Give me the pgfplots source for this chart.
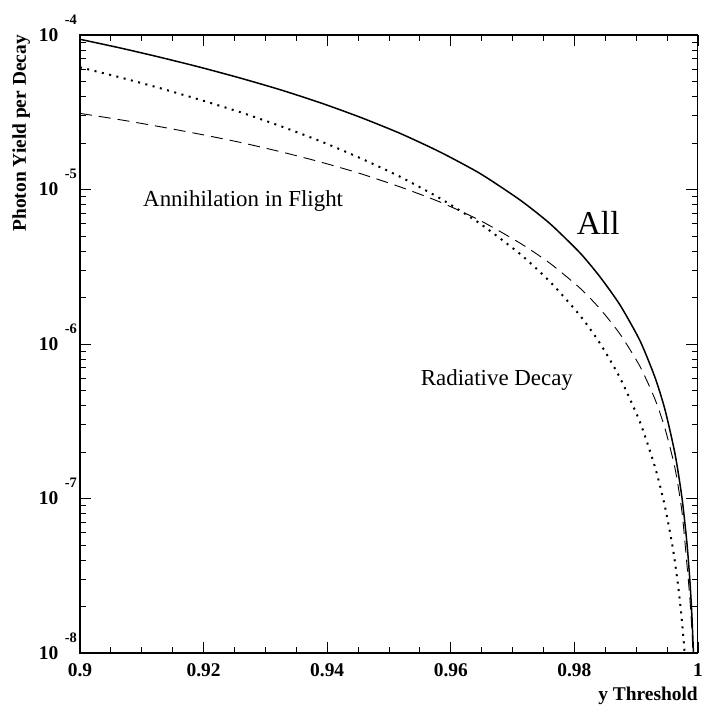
\documentclass[border=0pt]{standalone}
\usepackage{pgfplots}
\pgfplotsset{compat=1.18}
\usepackage{fontspec}
\setmainfont{Liberation Serif}
\newcommand\tenexp[1]{10\hspace{6.5bp}\smash{\raisebox{17bp}{\fontsize{14.5}{14.5}\selectfont #1}}}
\begin{document}
\begin{tikzpicture}
\begin{axis}[name=ax, ymode=log, scale only axis, width=618bp, height=618bp,
  xmin=0.9, xmax=1, ymin=1e-8, ymax=1e-4,
  xtick={0.9,0.92,0.94,0.96,0.98,1},
  xticklabels={0.9,0.92,0.94,0.96,0.98,1},
  minor x tick num=3,
  ytick={1e-8,1e-7,1e-6,1e-5,1e-4},
  yticklabels={\tenexp{-8},\tenexp{-7},\tenexp{-6},\tenexp{-5},\tenexp{-4}},
  axis line style={line width=1bp},
  tick style={line width=0.9bp, black},
  major tick length=11.5bp, minor tick length=6bp,
  xticklabel style={font=\fontsize{19.5}{20}\selectfont\bfseries, inner sep=0pt, yshift=-10bp},
  yticklabel style={font=\fontsize{19.5}{20}\selectfont\bfseries, inner sep=0pt, xshift=-3bp},
]
% All
\addplot[black, line width=1.5bp, smooth, tension=0.4] coordinates {
(0.900000,9.38e-5) (0.906472,8.25e-5) (0.912945,7.18e-5) (0.919417,6.19e-5) (0.925890,5.27e-5)
(0.932362,4.43e-5) (0.938835,3.65e-5) (0.945307,2.94e-5) (0.951780,2.31e-5) (0.958252,1.75e-5)
(0.964725,1.27e-5) (0.971197,8.56e-6) (0.976052,6.01e-6) (0.980906,3.89e-6) (0.984142,2.72e-6)
(0.987379,1.79e-6) (0.990615,1.05e-6) (0.993042,6.08e-7) (0.994660,3.76e-7) (0.996278,1.95e-7)
(0.997411,1.01e-7) (0.998220,5.10e-8) (0.998706,2.86e-8) (0.999029,1.69e-8) (0.999353,8.10e-9)
};
% Radiative decay
\addplot[black, line width=2bp, dash pattern=on 2bp off 5.5bp, smooth, tension=0.4] coordinates {
(0.900000,6.18e-5) (0.906472,5.32e-5) (0.912945,4.53e-5) (0.919417,3.81e-5) (0.925890,3.17e-5)
(0.932362,2.58e-5) (0.938835,2.06e-5) (0.945307,1.60e-5) (0.951780,1.21e-5) (0.958252,8.77e-6)
(0.964725,6.02e-6) (0.971197,3.83e-6) (0.976052,2.53e-6) (0.980906,1.53e-6) (0.984142,1.01e-6)
(0.987379,6.04e-7) (0.990615,3.12e-7) (0.993042,1.60e-7) (0.994660,8.84e-8) (0.995955,4.70e-8)
(0.996764,2.77e-8) (0.997249,1.85e-8) (0.997573,1.35e-8) (0.997896,9.32e-9) (0.998220,5.98e-9)
};
% Annihilation in flight
\addplot[black, line width=0.9bp, dash pattern=on 12bp off 7bp, smooth, tension=0.4] coordinates {
(0.900000,3.11e-5) (0.906472,2.83e-5) (0.912945,2.55e-5) (0.919417,2.28e-5) (0.925890,2.02e-5)
(0.932362,1.76e-5) (0.938835,1.51e-5) (0.945307,1.27e-5) (0.951780,1.04e-5) (0.958252,8.30e-6)
(0.964725,6.31e-6) (0.971197,4.50e-6) (0.976052,3.33e-6) (0.980906,2.30e-6) (0.984142,1.69e-6)
(0.987379,1.16e-6) (0.990615,7.16e-7) (0.993042,4.39e-7) (0.994660,2.84e-7) (0.996278,1.57e-7)
(0.997411,8.18e-8) (0.998220,3.71e-8) (0.998706,2.20e-8) (0.999029,1.37e-8) (0.999353,7.20e-9)
};
\node[anchor=base west, inner sep=0pt, font=\fontsize{23}{24}\selectfont] at (axis cs:0.9102,7.82e-6) {Annihilation in Flight};
\node[anchor=base west, inner sep=0pt, font=\fontsize{23}{24}\selectfont] at (axis cs:0.95513,5.35e-7) {Radiative Decay};
\node[anchor=base west, inner sep=0pt, font=\fontsize{33.5}{34}\selectfont] at (axis cs:0.98037,5.08e-6) {All};
\end{axis}
\draw[line width=2.4bp, line join=miter] (ax.north east) -- (ax.north west) -- (ax.south west) -- (ax.south east);
\node[rotate=90, anchor=base east, inner sep=0pt, font=\fontsize{19.5}{20}\selectfont\bfseries] at ([xshift=-54bp]ax.north west) {Photon Yield per Decay};
\node[anchor=base east, inner sep=0pt, font=\fontsize{19.5}{20}\selectfont\bfseries] at ([yshift=-47bp]ax.south east) {y Threshold};
\pgfresetboundingbox
\path ([shift={(-80bp,-53bp)}]ax.south west) rectangle ([shift={(5bp,35bp)}]ax.north east);
\end{tikzpicture}
\end{document}
